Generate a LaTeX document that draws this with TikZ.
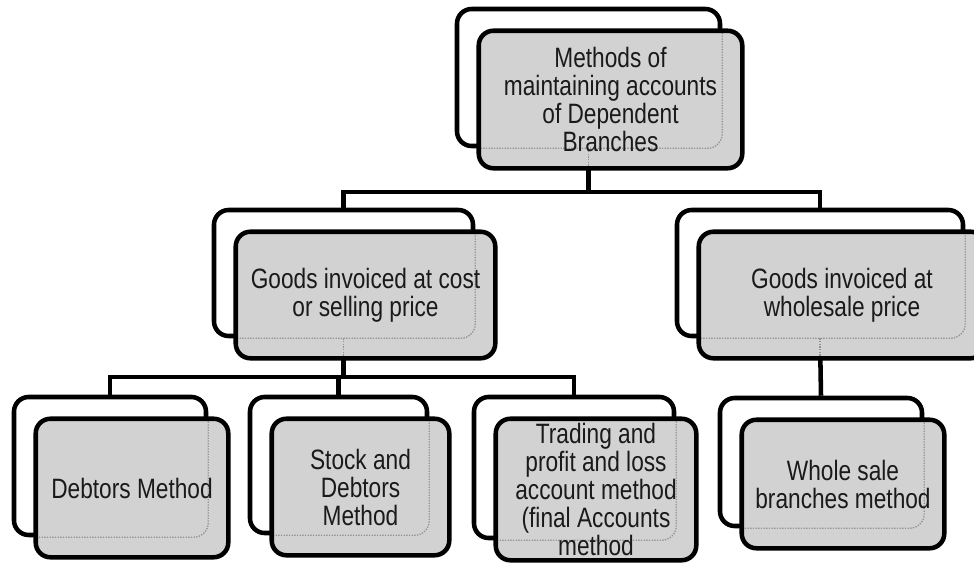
\documentclass[tikz,border=0pt]{standalone}
\usepackage{fontspec}
\setmainfont{Liberation Sans}[FakeStretch=0.81]
\usetikzlibrary{fit,backgrounds}
\definecolor{boxgray}{HTML}{D2D2D2}
\definecolor{inkgray}{HTML}{1A1A1A}
\tikzset{
  backbox/.style={draw=black, fill=white, line width=3.4pt, rounded corners=11pt, inner sep=0pt},
  frontfill/.style={fill=boxgray, draw=none, rounded corners=11pt, inner sep=0pt},
  frontline/.style={draw=black, line width=3.4pt, rounded corners=11pt},
  conn/.style={draw=black, line width=3.4pt},
  faint/.style={draw=gray!85, line width=1pt, densely dotted, rounded corners=11pt},
  txt/.style={align=center, text=inkgray, inner sep=0pt, font=\fontsize{21}{21}\selectfont},
}
% #1 name, #2 x1, #3 y1, #4 x2, #5 y2 (back box, px, y downwards), #6 text, #7 1 = has child
\newcommand\duobox[7]{%
  \node[backbox, fit={(#2,-#3) (#4,-#5)}] (#1) {};
  \node[frontfill, fit={(#2+22,-#3-22) (#4+22,-#5-22)}] (#1f) {};
  \begin{scope}
    \clip[rounded corners=11pt] (#1f.south west) rectangle (#1f.north east);
    \draw[faint] (#1.south west) rectangle (#1.north east);
    \ifnum#7=1 \draw[faint, rounded corners=0pt] (#1.south) -- ++(0,-30);\fi
  \end{scope}
  \draw[frontline] (#1f.south west) rectangle (#1f.north east);
  \node[txt] (#1t) at (#1f.center) {#6};
}
\begin{document}
\begin{tikzpicture}[x=0.75pt, y=0.75pt]
  \useasboundingbox (0,0) rectangle (974,-564);
  \clip (0,0) rectangle (974,-564);
  \coordinate (bus1) at (0,-192);
  \coordinate (bus2) at (0,-377);
  % boxes
  \duobox{top}{457}{9}{720}{146}{Methods of\\maintaining accounts\\of Dependent\\Branches}{1}
  \duobox{gc}{214}{210}{473}{336}{Goods invoiced at cost\\or selling price}{1}
  \duobox{wp}{677}{210}{963}{336}{Goods invoiced at\\wholesale price}{1}
  \duobox{deb}{14}{397}{206}{535}{Debtors Method}{0}
  \duobox{stk}{250}{397}{427}{533}{Stock and\\Debtors\\Method}{0}
  \duobox{trd}{474}{397}{674}{538}{Trading and\\profit and loss\\account method\\(final Accounts\\method}{0}
  \duobox{wb}{720}{398}{922}{526}{Whole sale\\branches method}{0}
  % connectors, behind the boxes
  \begin{scope}[on background layer]
    \draw[conn] (top.south) -- (top.south |- bus1) -| (gc.north);
    \draw[conn] (top.south |- bus1) -| (wp.north);
    \draw[conn] (gc.south) -- (gc.south |- bus2) -| (deb.north);
    \draw[conn] (gc.south |- bus2) -| (stk.north);
    \draw[conn] (gc.south |- bus2) -| (trd.north);
    \draw[conn] (wp.south) -- (wb.north);
  \end{scope}
\end{tikzpicture}
\end{document}
